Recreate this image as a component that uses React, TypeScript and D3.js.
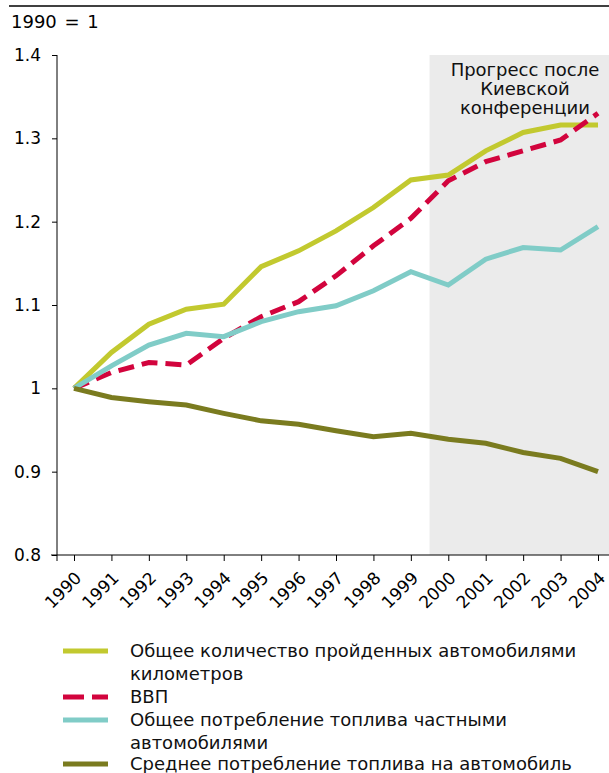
import React, { useRef, useEffect } from "react";
import * as d3 from "d3";

const years = [1990, 1991, 1992, 1993, 1994, 1995, 1996, 1997, 1998, 1999, 2000, 2001, 2002, 2003, 2004];
const kmDriven = [1.0, 1.043, 1.077, 1.095, 1.101, 1.146, 1.165, 1.189, 1.217, 1.25, 1.256, 1.285, 1.307, 1.316, 1.316];
const gdp = [1.0, 1.019, 1.031, 1.028, 1.06, 1.086, 1.104, 1.135, 1.171, 1.204, 1.249, 1.272, 1.285, 1.298, 1.33];
const fuelTotal = [1.0, 1.027, 1.052, 1.066, 1.062, 1.08, 1.092, 1.099, 1.117, 1.14, 1.124, 1.155, 1.169, 1.166, 1.194];
const fuelPerCar = [1.0, 0.989, 0.984, 0.98, 0.97, 0.961, 0.957, 0.949, 0.942, 0.946, 0.939, 0.934, 0.923, 0.916, 0.9];
const yTicks = [0.8, 0.9, 1.0, 1.1, 1.2, 1.3, 1.4];

const series = [
  { name: ["Общее количество пройденных автомобилями", "километров"], values: kmDriven, color: "#c2c92f", dash: null },
  { name: ["ВВП"], values: gdp, color: "#d2043d", dash: "16,8" },
  { name: ["Общее потребление топлива частными", "автомобилями"], values: fuelTotal, color: "#80ccc7", dash: null },
  { name: ["Среднее потребление топлива на автомобиль"], values: fuelPerCar, color: "#7a7b1f", dash: null },
];

const FONT = "'DejaVu Sans', Verdana, sans-serif";

const App = () => {
  const xAxisRef = useRef<SVGGElement>(null);
  const yAxisRef = useRef<SVGGElement>(null);

  const x = d3.scaleLinear().domain([1990, 2004]).range([74, 598]);
  const y = d3.scaleLinear().domain([0.8, 1.4]).range([555, 55]);
  const line = d3
    .line<number>()
    .x((d, i) => x(years[i]))
    .y((d) => y(d));

  useEffect(() => {
    const yAxis = d3
      .axisLeft(y)
      .tickValues(yTicks)
      .tickSize(5)
      .tickPadding(11)
      .tickFormat((d) => (+d === 1 ? "1" : d3.format(".1f")(+d)));
    const gy = d3.select(yAxisRef.current!);
    gy.call(yAxis);
    gy.select(".domain").attr("d", `M0,${y(1.4)}V${y(0.8) + 6}`);
    gy.selectAll("text").style("font-family", FONT).style("font-size", "17px").attr("fill", "#000");

    const xAxis = d3
      .axisBottom(x)
      .tickValues(years)
      .tickSize(6)
      .tickFormat((d) => String(d));
    const gx = d3.select(xAxisRef.current!);
    gx.call(xAxis);
    gx.select(".domain").attr("d", `M51,0H609`);
    gx.selectAll("text")
      .style("font-family", FONT)
      .style("font-size", "17px")
      .attr("fill", "#000")
      .attr("text-anchor", "end")
      .attr("dy", 0)
      .attr("x", 0)
      .attr("y", 0)
      .attr("transform", "translate(8,24) rotate(-45)");
    return () => {
      gx.selectAll("*").remove();
      gy.selectAll("*").remove();
    };
  });

  const legendY = [651, 697, 720, 764];

  return (
    <svg width={609} height={773} style={{ position: "absolute", left: 0, top: 0, background: "#fff" }}>
      <line x1={9} x2={609} y1={6} y2={6} stroke="#000" strokeWidth={1.5} />
      <text x={11} y={28} fontFamily={FONT} fontSize={18} wordSpacing={2}>1990 = 1</text>
      <rect x={x(1999.5)} y={y(1.4)} width={609 - x(1999.5)} height={y(0.8) - y(1.4)} fill="#ebebeb" />
      <text x={525} y={76} textAnchor="middle" fontFamily={FONT} fontSize={18} fill="#111">
        <tspan x={525}>Прогресс после</tspan>
        <tspan x={525} dy={19}>Киевской</tspan>
        <tspan x={525} dy={19}>конференции</tspan>
      </text>
      <g ref={yAxisRef} transform={`translate(57,0)`} />
      <g ref={xAxisRef} transform={`translate(0,${y(0.8)})`} />
      {series.map((s) => (
        <path
          key={s.name[0]}
          d={line(s.values) || ""}
          fill="none"
          stroke={s.color}
          strokeWidth={5}
          strokeDasharray={s.dash || undefined}
          strokeLinejoin="miter"
        />
      ))}
      <g fontFamily={FONT} fontSize={18} fill="#111">
        {series.map((s, i) => (
          <g key={s.name[0]}>
            <line x1={63} x2={108} y1={legendY[i]} y2={legendY[i]} stroke={s.color} strokeWidth={5} strokeDasharray={s.dash ? "21,8" : undefined} />
            <text x={130} y={legendY[i] + 6}>
              {s.name.map((t, j) => (
                <tspan key={j} x={130} dy={j === 0 ? 0 : 23}>{t}</tspan>
              ))}
            </text>
          </g>
        ))}
      </g>
    </svg>
  );
};

export default App;
